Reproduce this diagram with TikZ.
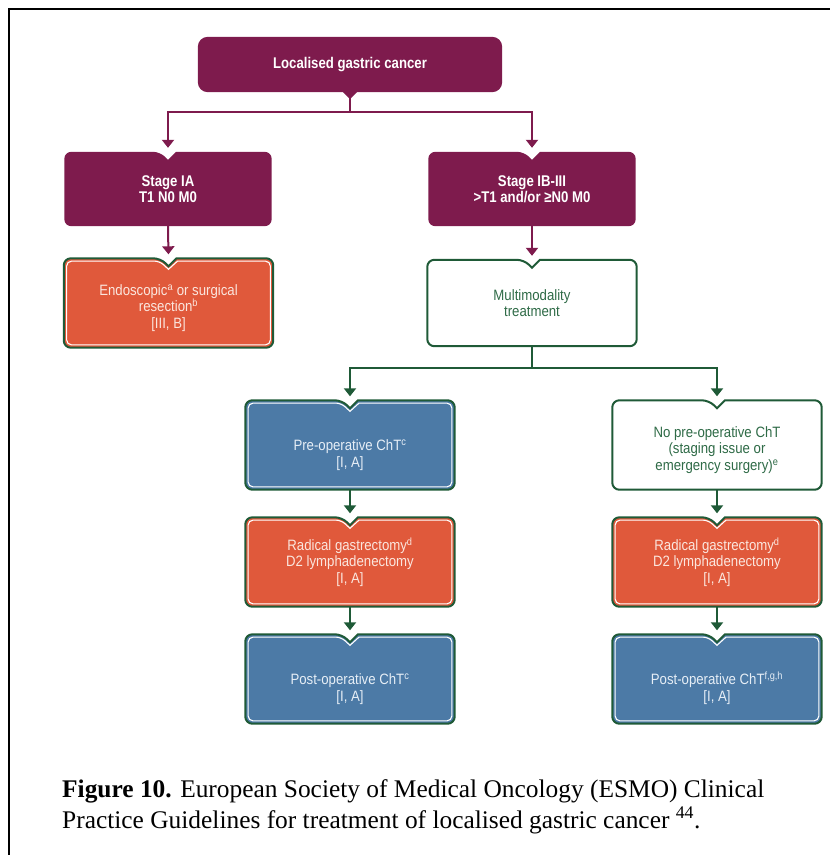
\documentclass[tikz,border=0pt]{standalone}
\usepackage{fontspec}
\setmainfont{Liberation Serif}
\newfontfamily\boxfont[FakeStretch=0.88]{Liberation Sans}
\newfontfamily\headfont[FakeStretch=0.85]{Liberation Sans Bold}
\usetikzlibrary{arrows.meta,backgrounds}

\definecolor{plum}{HTML}{7E1B4D}
\definecolor{coral}{HTML}{E0593B}
\definecolor{steel}{HTML}{4C7AA6}
\definecolor{pine}{HTML}{1F5A37}
\definecolor{pinetext}{HTML}{2F6B47}
\definecolor{coraltext}{HTML}{FBE6DE}
\definecolor{steeltext}{HTML}{E6EEF6}

% struts that push box text below the notch
\newcommand\dropii{\rule{0pt}{31pt}}
\newcommand\dropiii{\rule{0pt}{21pt}}

\tikzset{
  headbox/.style={font=\headfont\fontsize{15.5}{16.5}\selectfont, text=white,
    align=center, inner sep=0pt, minimum width=207pt, minimum height=74pt},
  carebox/.style={font=\boxfont\fontsize{15}{16.5}\selectfont,
    align=center, inner sep=0pt, minimum width=209pt, minimum height=89pt},
  plumline/.style={draw=plum, line width=2pt},
  plumarrow/.style={plumline, -{Triangle[width=12pt,length=8pt]}, shorten >=4pt},
  pinearrow/.style={draw=pine, line width=2pt,
    -{Triangle[width=12pt,length=8pt]}, shorten >=4pt},
}

% box with a V notch on its top edge
\newcommand\notchbox[4]{%
  \path[fill=#2, draw=#3, line width=2pt, rounded corners=7pt]
    (#1.south west) -- (#1.north west) -- ([xshift=-8pt]#1.north)
    [sharp corners] -- ([yshift=-8pt]#1.north) -- ([xshift=8pt]#1.north)
    [rounded corners=7pt] -- (#1.north east) -- (#1.south east) -- cycle;
  \path[draw=#4, line width=1.1pt, rounded corners=5pt]
    ([shift={(2.8pt,2.8pt)}]#1.south west) -- ([shift={(2.8pt,-2.8pt)}]#1.north west)
    -- ([shift={(-9pt,-2.8pt)}]#1.north)
    [sharp corners] -- ([yshift=-11pt]#1.north) -- ([shift={(9pt,-2.8pt)}]#1.north)
    [rounded corners=5pt] -- ([shift={(-2.8pt,-2.8pt)}]#1.north east)
    -- ([shift={(-2.8pt,2.8pt)}]#1.south east) -- cycle;
}

\begin{document}
\begin{tikzpicture}[x=1pt,y=1pt]
  \useasboundingbox (0,0) rectangle (830,-855);
  \draw[line width=2pt] (9,-855) -- (9,-9) -- (830,-9);

  % nodes
  \node[headbox, minimum width=304pt, minimum height=55pt] (top) at (350,-64.5)
    {Localised gastric cancer};
  \node[headbox] (ia) at (168,-189) {Stage IA\\T1 N0 M0};
  \node[headbox] (ib) at (532,-189) {Stage IB-III\\>T1 and/or ≥N0 M0};
  \node[carebox, text=coraltext] (endo) at (168.5,-303)
    {\dropiii Endoscopic\textsuperscript{a} or surgical\\resection\textsuperscript{b}\\{}[III, B]};
  \node[carebox, text=pinetext, minimum height=86pt] (multi) at (532,-303)
    {Multimodality\\treatment};
  \node[carebox, text=steeltext] (preop) at (350,-445)
    {\dropii Pre-operative ChT\textsuperscript{c}\\{}[I, A]};
  \node[carebox, text=pinetext] (nopre) at (717,-445)
    {\dropiii No pre-operative ChT\\(staging issue or\\emergency surgery)\textsuperscript{e}};
  \node[carebox, text=coraltext] (surgl) at (350,-562)
    {Radical gastrectomy\textsuperscript{d}\\D2 lymphadenectomy\\{}[I, A]};
  \node[carebox, text=coraltext] (surgr) at (717,-562)
    {Radical gastrectomy\textsuperscript{d}\\D2 lymphadenectomy\\{}[I, A]};
  \node[carebox, text=steeltext] (postl) at (350,-679)
    {\dropii Post-operative ChT\textsuperscript{c}\\{}[I, A]};
  \node[carebox, text=steeltext] (postr) at (717,-679)
    {\dropii Post-operative ChT\textsuperscript{f,g,h}\\{}[I, A]};

  \node[anchor=base west, align=left, inner sep=0pt,
    font=\fontsize{25.4}{31}\selectfont] (caption) at (62,-828)
    {\textbf{Figure 10.} European Society of Medical Oncology (ESMO) Clinical\\
     Practice Guidelines for treatment of localised gastric cancer \textsuperscript{44}.};

  \begin{scope}[on background layer]
    \fill[plum, rounded corners=10pt] (top.south west) rectangle (top.north east);
    \fill[plum] ([xshift=-7pt]top.south) -- ([yshift=-7pt]top.south)
      -- ([xshift=7pt]top.south) -- cycle;
    \notchbox{ia}{plum}{none}{none}
    \notchbox{ib}{plum}{none}{none}
    \notchbox{endo}{coral}{pine}{white}
    \notchbox{multi}{white}{pine}{none}
    \notchbox{preop}{steel}{pine}{white}
    \notchbox{nopre}{white}{pine}{none}
    \notchbox{surgl}{coral}{pine}{white}
    \notchbox{surgr}{coral}{pine}{white}
    \notchbox{postl}{steel}{pine}{white}
    \notchbox{postr}{steel}{pine}{white}
  \end{scope}

  % connectors
  \draw[plumarrow] (top.south) -- ++(0,-20) -| (ia.north);
  \draw[plumarrow] (top.south) -- ++(0,-20) -| (ib.north);
  \draw[plumarrow] (ia.south) -- (endo.north);
  \draw[plumarrow] (ib.south) -- (multi.north);
  \draw[pinearrow] (multi.south) -- ++(0,-22) -| (preop.north);
  \draw[pinearrow] (multi.south) -- ++(0,-22) -| (nopre.north);
  \draw[pinearrow] (preop.south) -- (surgl.north);
  \draw[pinearrow] (nopre.south) -- (surgr.north);
  \draw[pinearrow] (surgl.south) -- (postl.north);
  \draw[pinearrow] (surgr.south) -- (postr.north);
\end{tikzpicture}
\end{document}
